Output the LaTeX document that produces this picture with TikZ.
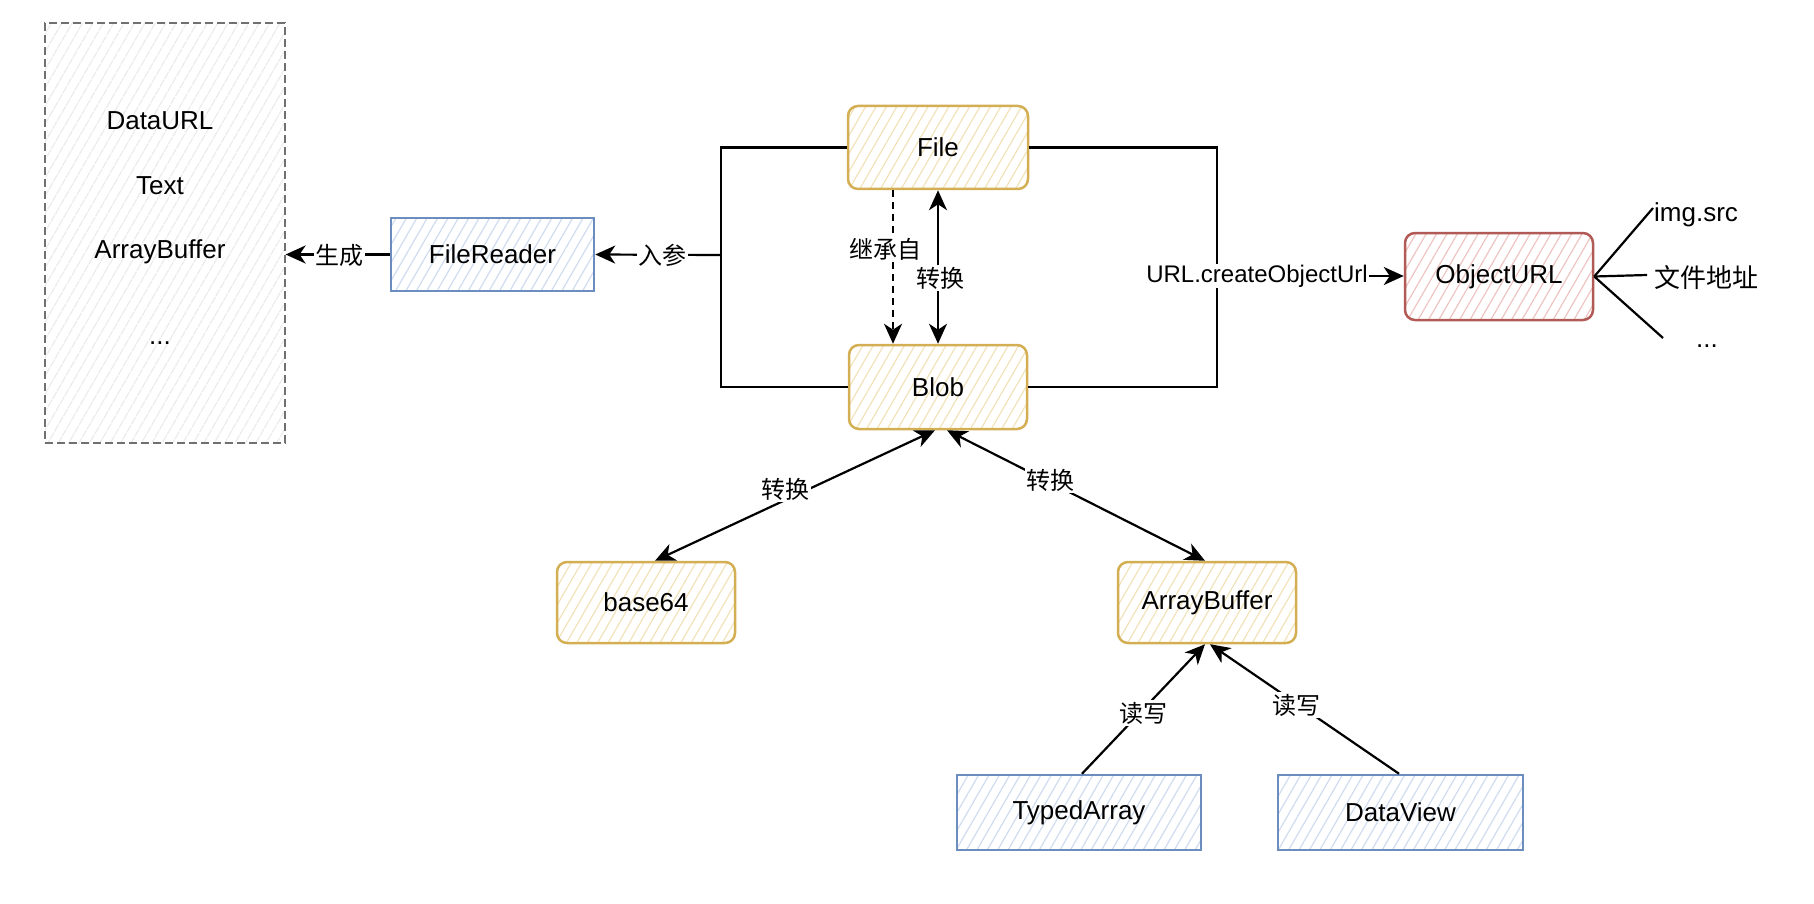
\documentclass[tikz,border=0pt]{standalone}
\usepackage{fontspec}
\setmainfont{Liberation Sans}
\newfontfamily\cjk{Noto Sans CJK SC}
\usetikzlibrary{arrows.meta,patterns.meta,calc}
\definecolor{ystroke}{HTML}{D4AE52}
\definecolor{yhatch}{HTML}{F1E2BA}
\definecolor{bstroke}{HTML}{6C8EBF}
\definecolor{bhatch}{HTML}{CFDCEF}
\definecolor{rstroke}{HTML}{B25A55}
\definecolor{rhatch}{HTML}{EDC4C1}
\definecolor{gstroke}{HTML}{707070}
\definecolor{ghatch}{HTML}{EBEBEB}
\newcommand\mynodefont{\fontsize{26}{31}\selectfont}
\newcommand\mylabelfont{\fontsize{24}{29}\selectfont}
\tikzset{
  box/.style={draw, line width=2.5pt, inner sep=0pt, font=\mynodefont, text=black},
  ybox/.style={box, draw=ystroke, rounded corners=10pt,
    pattern={Lines[angle=60,distance=9pt,line width=1.2pt]}, pattern color=yhatch},
  bbox/.style={box, draw=bstroke,
    pattern={Lines[angle=60,distance=9pt,line width=1.2pt]}, pattern color=bhatch},
  rbox/.style={box, draw=rstroke, rounded corners=10pt,
    pattern={Lines[angle=60,distance=9pt,line width=1.2pt]}, pattern color=rhatch},
  gbox/.style={box, draw=gstroke, dash pattern=on 8pt off 4pt,
    pattern={Lines[angle=60,distance=9pt,line width=1.2pt]}, pattern color=ghatch},
  conn/.style={line width=2.2pt, draw=black},
  tip/.tip={Stealth[length=20pt,width=18pt,inset=6pt]},
  arr/.style={conn, -tip},
  darr/.style={conn, tip-tip},
  lbl/.style={fill=white, inner sep=1.5pt, font=\mylabelfont\cjk, text=black},
  ltxt/.style={inner sep=0pt, font=\mynodefont, text=black},
}
\begin{document}
\begin{tikzpicture}[x=1pt,y=-1pt]
\useasboundingbox (0,0) rectangle (1814,904);
% nodes
\node[gbox, minimum width=240pt, minimum height=420pt] (db) at (165,233) {};
\node[ltxt, anchor=base] (t1) at (160,130) {DataURL};
\node[ltxt, anchor=base] (t2) at (160,195) {Text};
\node[ltxt, anchor=base] (t3) at (160,258) {ArrayBuffer};
\node[ltxt, anchor=base] (t4) at (160,344) {...};
\node[bbox, minimum width=203pt, minimum height=73pt] (fr) at (492.5,254.5) {FileReader};
\node[ybox, minimum width=180pt, minimum height=83pt] (file) at (938,147.5) {File};
\node[ybox, minimum width=178pt, minimum height=84pt] (blob) at (938,387) {Blob};
\node[ybox, minimum width=178pt, minimum height=81pt] (b64) at (646,602.5) {base64};
\node[ybox, minimum width=178pt, minimum height=81pt] (ab) at (1207,602.5) {ArrayBuffer};
\node[bbox, minimum width=244pt, minimum height=75pt] (ta) at (1079,812.5) {TypedArray};
\node[bbox, minimum width=245pt, minimum height=75pt] (dv) at (1400.5,812.5) {DataView};
\node[rbox, minimum width=188pt, minimum height=87pt] (ou) at (1499,276.5) {ObjectURL};
% coordinates
\coordinate (jl) at (721,255);
\coordinate (jr) at (1217,276);
\coordinate (e1) at (1653,208);
\coordinate (e2) at (1647,275);
\coordinate (e3) at (1663,338);
% left bracket
\draw[conn] (file.west) -- (file.west -| jl) -- (blob.west -| jl) -- (blob.west);
\draw[arr] (jl) -- (fr.east);
\node[lbl] (l1) at (662,255) {入参};
\draw[arr] (fr.west) -- (fr.west -| db.east);
\node[lbl] (l2) at (339,255) {生成};
% right bracket
\draw[conn] (file.east) -- (file.east -| jr) -- (blob.east -| jr) -- (blob.east);
\draw[arr] (jr) -- (jr -| ou.west);
\node[lbl, font=\mylabelfont, inner sep=1pt] (l3) at (1257,276) {URL.createObjectUrl};
% file-blob
\draw[arr, dash pattern=on 7pt off 5pt] ([xshift=-45pt]file.south) -- ([xshift=-45pt]blob.north);
\node[lbl] (l4) at (885,249) {继承自};
\draw[darr] (file.south) -- (blob.north);
\node[lbl] (l5) at (940,278) {转换};
% blob - bottom
\draw[darr] ([xshift=-3pt]blob.south) -- ([xshift=9pt]b64.north);
\node[lbl] (l6) at (785,489) {转换};
\draw[darr] ([xshift=9pt]blob.south) -- ([xshift=-2pt]ab.north);
\node[lbl] (l7) at (1050,480) {转换};
% arraybuffer readers
\draw[arr] ([xshift=3pt]ta.north) -- ([xshift=-2pt]ab.south);
\node[lbl] (l8) at (1143,713) {读写};
\draw[arr] ([xshift=-1.5pt]dv.north) -- ([xshift=3pt]ab.south);
\node[lbl] (l9) at (1296,705) {读写};
% objecturl fan
\draw[conn] (ou.east) -- (e1);
\draw[conn] (ou.east) -- (e2);
\draw[conn] (ou.east) -- (e3);
\node[ltxt, anchor=base west] (o1) at (1654,222) {img.src};
\node[ltxt, anchor=west, font=\mynodefont\cjk] (o2) at (1654,278) {文件地址};
\node[ltxt, anchor=base] (o3) at (1707,347) {...};
\end{tikzpicture}
\end{document}
